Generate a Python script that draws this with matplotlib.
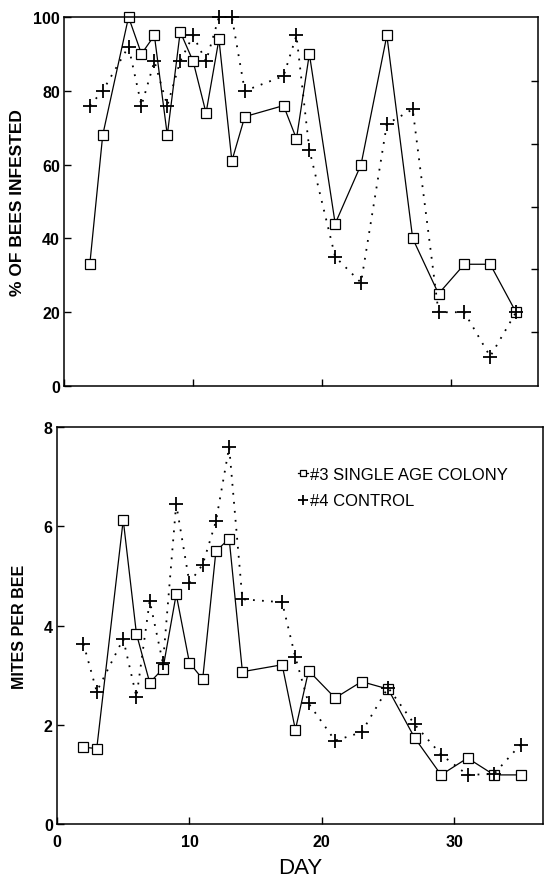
import matplotlib
matplotlib.use('Agg')
import matplotlib.pyplot as plt

plt.rcParams['font.family'] = ['Liberation Sans', 'DejaVu Sans']

# sampling days (same for both colonies and both panels)
days = [2, 3, 5, 6, 7, 8, 9, 10, 11, 12, 13, 14, 17, 18, 19, 21, 23, 25, 27, 29, 31, 33, 35]

# % of bees infested
pct_single = [33, 68, 100, 90, 95, 68, 96, 88, 74, 94, 61, 73, 76, 67, 90, 44, 60, 95, 40, 25, 33, 33, 20]
pct_control = [76, 80, 92, 76, 88, 76, 88, 95, 88, 100, 100, 80, 84, 95, 64, 35, 28, 71, 75, 20, 20, 8, 20]

# mites per bee
mites_single = [1.55, 1.52, 6.13, 3.83, 2.85, 3.13, 4.63, 3.25, 2.92, 5.5, 5.75, 3.07,
                3.21, 1.9, 3.09, 2.54, 2.87, 2.72, 1.74, 0.99, 1.33, 0.99, 0.99]
mites_control = [3.63, 2.67, 3.73, 2.56, 4.5, 3.24, 6.45, 4.86, 5.23, 6.1, 7.6, 4.53,
                 4.47, 3.36, 2.43, 1.68, 1.85, 2.75, 2.01, 1.4, 0.99, 1.01, 1.6]

label_single = '#3 SINGLE AGE COLONY'
label_control = '#4 CONTROL'

fig = plt.figure(figsize=(5.44, 8.79), dpi=100)
ax1 = fig.add_axes([0.1176, 0.5597, 0.8713, 0.4198])
ax2 = fig.add_axes([0.1048, 0.0614, 0.8934, 0.4516])

sq = dict(color='black', linestyle='-', linewidth=0.9, marker='s', markersize=6.5,
          markerfacecolor='white', markeredgewidth=0.9, clip_on=False)
pl = dict(color='black', linestyle=(0, (1, 4)), linewidth=1.3, marker='+', markersize=10,
          markeredgewidth=1.3, clip_on=False)

for ax in (ax1, ax2):
    for s in ax.spines.values():
        s.set_linewidth(1.1)
    ax.tick_params(direction='in', length=5, width=1)
    ax.set_xlim(0, 36.7)
    ax.set_xticks([0, 10, 20, 30])

# top panel
ax1.plot(days, pct_single, **sq)
ax1.plot(days, pct_control, **pl)
ax1.set_ylim(0, 100)
ax1.set_yticks([0, 20, 40, 60, 80, 100])
ax1.set_xticklabels([])
ax1.tick_params(axis='y', pad=3)
for t in ax1.get_yticklabels():
    t.set_fontsize(11.5)
    t.set_fontweight('bold')
ax1.set_ylabel('% OF BEES INFESTED', fontsize=12.5, fontweight='bold', labelpad=6)

# odd tick marks on the right side of the top panel
tw = ax1.twinx()
tw.set_ylim(0.14, 6.02)
tw.set_yticks([1, 2, 3, 4, 5])
tw.set_yticklabels([])
tw.tick_params(direction='in', length=5, width=1)
for s in tw.spines.values():
    s.set_visible(False)

# bottom panel
ax2.plot(days, mites_single, label=label_single, **sq)
ax2.plot(days, mites_control, label=label_control, **pl)
ax2.set_ylim(0, 8)
ax2.set_yticks([0, 2, 4, 6, 8])
ax2.tick_params(axis='y', pad=3)
ax2.tick_params(axis='x', pad=7)
for t in ax2.get_yticklabels() + ax2.get_xticklabels():
    t.set_fontsize(11.5)
    t.set_fontweight('bold')
ax2.set_ylabel('MITES PER BEE', fontsize=11.5, fontweight='bold', labelpad=12)
ax2.xaxis.set_label_coords(0.515, -0.082)
ax2.set_xlabel('DAY', fontsize=16)

ax2.legend(loc='upper left', bbox_to_anchor=(0.495, 0.9), frameon=False, fontsize=12,
           handlelength=0.6, handletextpad=0.15, labelspacing=0.7, markerscale=0.65,
           borderpad=0, borderaxespad=0)

fig.savefig('out.png', dpi=100)
